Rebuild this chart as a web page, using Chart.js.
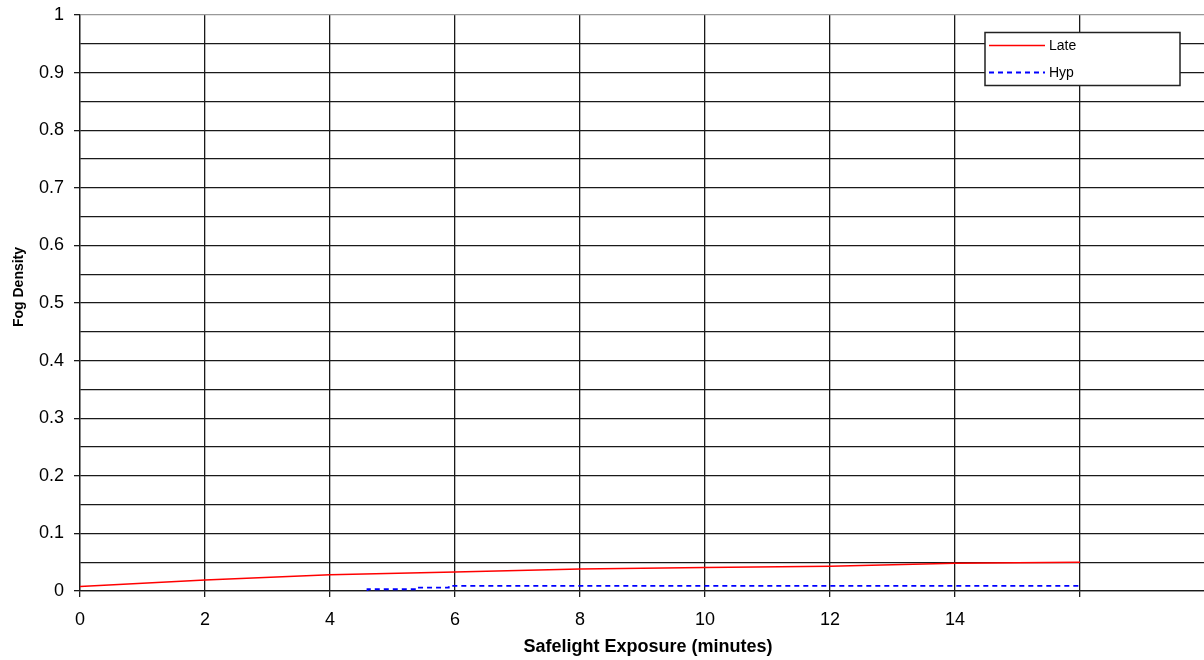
<!DOCTYPE html>
<html>
<head>
<meta charset="utf-8">
<script src="https://cdn.jsdelivr.net/npm/chart.js@4/dist/chart.umd.min.js"></script>
<style>
  html, body { margin: 0; padding: 0; background: #fff; overflow: hidden; }
  #wrap { width: 1204px; height: 660px; overflow: hidden; position: relative; }
  canvas { display: block; }
</style>
</head>
<body>
<div id="wrap"><canvas id="c" width="1205" height="660"></canvas></div>
<script>
// Safelight fog curves
const seriesNames = ['Late', 'Hyp'];
const lateX = [0, 2, 4, 6, 8, 10, 12, 14, 16];
const lateY = [0.008, 0.019, 0.028, 0.033, 0.038, 0.041, 0.043, 0.048, 0.050];
const hypX = [4.6, 5.4, 5.9, 7.1, 16];
const hypY = [0, 0.003, 0.006, 0.009, 0.009];
const xTickLabels = ['0', '2', '4', '6', '8', '10', '12', '14'];
const yTickLabels = ['0', '0.1', '0.2', '0.3', '0.4', '0.5', '0.6', '0.7', '0.8', '0.9', '1'];
const xTitle = 'Safelight Exposure (minutes)';
const yTitle = 'Fog Density';

const toPoints = (xs, ys) => xs.map((x, i) => ({ x, y: ys[i] }));
const FONT = '"Liberation Sans", Arial, sans-serif';

// Axis titles and the boxed legend, drawn on top of the plot
const overlay = {
  id: 'overlay',
  afterDraw(chart) {
    const ctx = chart.ctx;
    ctx.save();
    // axis titles
    ctx.fillStyle = '#000';
    ctx.font = 'bold 18px ' + FONT;
    ctx.textAlign = 'center';
    ctx.textBaseline = 'middle';
    ctx.fillText(xTitle, 648, 647);
    ctx.save();
    ctx.translate(19, 287);
    ctx.rotate(-Math.PI / 2);
    ctx.font = 'bold 14px ' + FONT;
    ctx.fillText(yTitle, 0, 0);
    ctx.restore();

    // legend box
    ctx.fillStyle = '#fff';
    ctx.fillRect(985, 32, 195, 54);
    ctx.strokeStyle = '#222';
    ctx.lineWidth = 1.5;
    ctx.strokeRect(985, 32.5, 195, 53);
    chart.data.datasets.forEach((ds, i) => {
      const y = 45.5 + i * 27;
      ctx.save();
      ctx.strokeStyle = ds.borderColor;
      ctx.lineWidth = ds.borderWidth;
      ctx.setLineDash(ds.borderDash || []);
      ctx.beginPath();
      ctx.moveTo(989, y);
      ctx.lineTo(1045, y);
      ctx.stroke();
      ctx.restore();
      ctx.save();
      ctx.beginPath();
      ctx.rect(1046, y - 12, 32, 24);
      ctx.clip();
      ctx.fillStyle = '#000';
      ctx.font = '14px ' + FONT;
      ctx.textAlign = 'left';
      ctx.textBaseline = 'middle';
      ctx.fillText(ds.label, 1049, y + 1);
      ctx.restore();
    });
    ctx.restore();
  }
};

new Chart(document.getElementById('c'), {
  type: 'line',
  data: {
    datasets: [
      {
        label: seriesNames[0],
        data: toPoints(lateX, lateY),
        borderColor: '#ff0000',
        borderWidth: 1.5,
        pointRadius: 0,
        tension: 0
      },
      {
        label: seriesNames[1],
        data: toPoints(hypX, hypY),
        borderColor: '#0000ff',
        borderWidth: 1.8,
        borderDash: [5, 4],
        stepped: 'after',
        pointRadius: 0
      }
    ]
  },
  options: {
    responsive: false,
    animation: false,
    devicePixelRatio: 1,
    layout: { padding: { top: 15, right: 0, bottom: 0, left: 0 } },
    plugins: { legend: { display: false }, tooltip: { enabled: false } },
    scales: {
      x: {
        type: 'linear',
        min: 0,
        max: 18,
        afterFit: s => { s.height = 69; s.paddingLeft = 0; s.paddingRight = 0; },
        ticks: {
          stepSize: 2,
          padding: 12,
          color: '#000',
          font: { family: FONT, size: 18 },
          maxRotation: 0,
          autoSkip: false,
          callback: (v, i) => (xTickLabels[i] !== undefined ? xTickLabels[i] : '')
        },
        grid: {
          color: '#1a1a1a',
          lineWidth: 1.3,
          tickLength: 6,
          tickColor: '#1a1a1a'
        },
        border: { color: '#1a1a1a', width: 1.3 }
      },
      y: {
        min: 0,
        max: 1,
        afterFit: s => { s.width = 80; s.paddingTop = 0; s.paddingBottom = 0; },
        ticks: {
          stepSize: 0.05,
          padding: 10,
          color: '#000',
          font: { family: FONT, size: 18 },
          autoSkip: false,
          callback: (v, i) => (i % 2 === 0 ? yTickLabels[i / 2] : '')
        },
        grid: {
          color: c => (c.tick && Math.abs(c.tick.value - 1) < 1e-6 ? '#999' : '#1a1a1a'),
          lineWidth: 1.3,
          tickLength: 6,
          tickColor: c => (c.index % 2 === 0 ? '#1a1a1a' : 'rgba(0,0,0,0)')
        },
        border: { color: '#1a1a1a', width: 1.3 }
      }
    }
  },
  plugins: [overlay]
});
</script>
</body>
</html>
